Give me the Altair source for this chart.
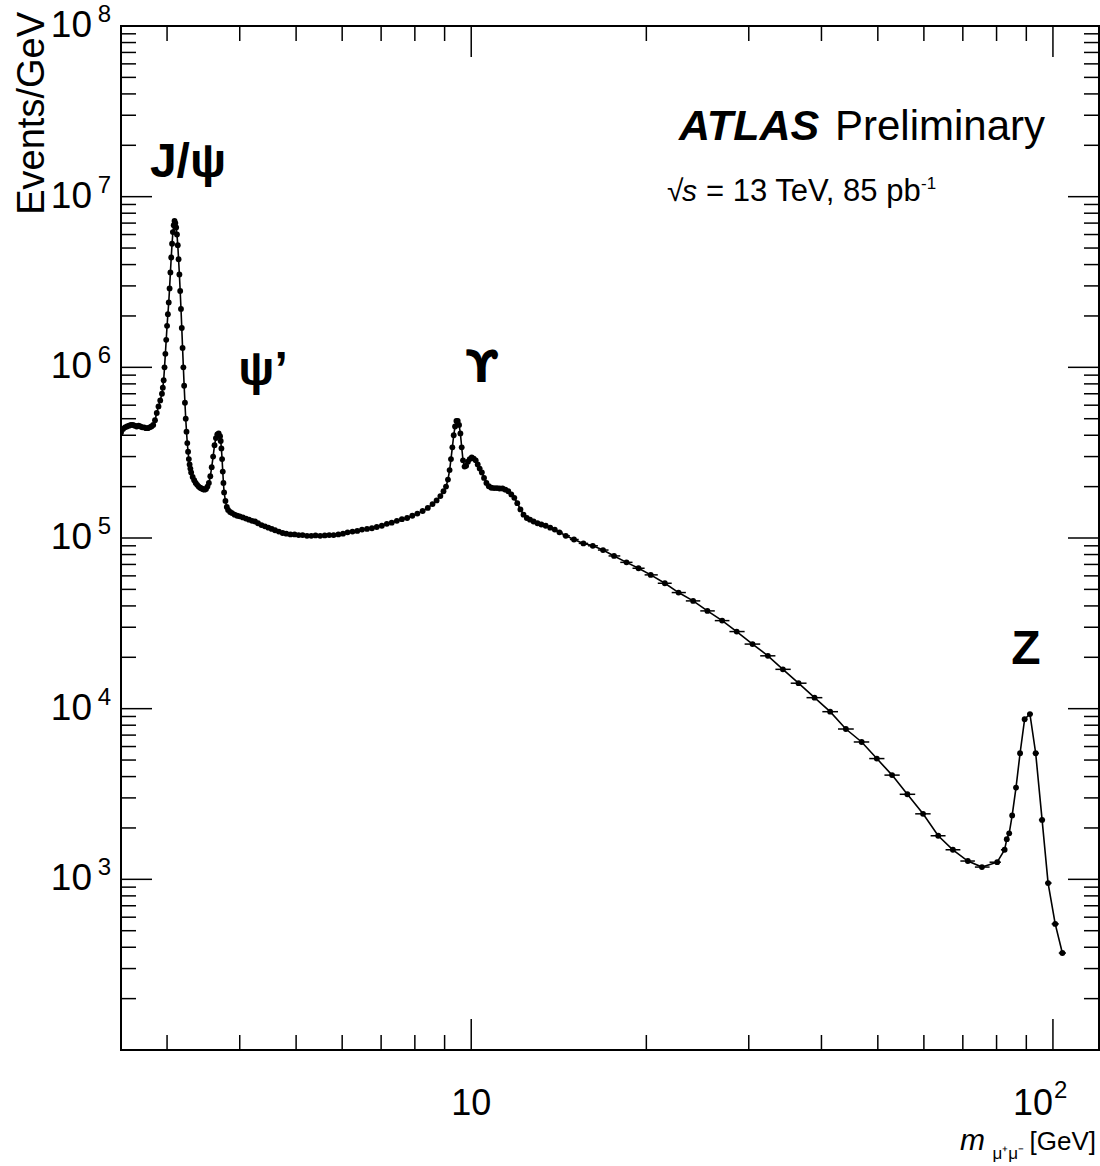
import altair as alt
import pandas as pd
import numpy as np

# ---------------- data ----------------
mass = [
    2.50, 2.52, 2.54, 2.56, 2.58, 2.60, 2.62, 2.64, 2.66, 2.68, 2.70, 2.72, 2.74, 2.76, 2.78, 2.80,
    2.82, 2.84, 2.86, 2.88, 2.90, 2.92, 2.94, 2.95, 2.96, 2.97, 2.98, 2.99, 3.00, 3.01, 3.02, 3.03,
    3.04, 3.05, 3.06, 3.07, 3.08, 3.09, 3.10, 3.11, 3.12, 3.13, 3.14, 3.15, 3.16, 3.17, 3.18, 3.19,
    3.20, 3.21, 3.22, 3.23, 3.24, 3.25, 3.26, 3.27, 3.28, 3.29, 3.30, 3.32, 3.34, 3.36, 3.38, 3.40,
    3.42, 3.44, 3.46, 3.48, 3.50, 3.52, 3.54, 3.56, 3.58, 3.60, 3.62, 3.64, 3.66, 3.68, 3.70, 3.71,
    3.72, 3.73, 3.74, 3.75, 3.76, 3.78, 3.80, 3.82, 3.85, 3.88, 3.92, 3.96, 4.00, 4.05, 4.10, 4.15,
    4.20, 4.25, 4.30, 4.36, 4.42, 4.48, 4.54, 4.60, 4.67, 4.74, 4.81, 4.89, 4.97, 5.05, 5.13, 5.22,
    5.31, 5.40, 5.50, 5.60, 5.70, 5.80, 5.91, 6.02, 6.13, 6.25, 6.37, 6.49, 6.62, 6.75, 6.88, 7.02,
    7.16, 7.30, 7.45, 7.60, 7.76, 7.92, 8.08, 8.25, 8.42, 8.58, 8.72, 8.85, 8.96, 9.05, 9.12, 9.18,
    9.23, 9.28, 9.33, 9.38, 9.43, 9.48, 9.53, 9.58, 9.63, 9.68, 9.74, 9.80, 9.87, 9.94, 10.02, 10.10,
    10.18, 10.26, 10.34, 10.43, 10.52, 10.62, 10.72, 10.83, 10.95, 11.07, 11.19, 11.32, 11.45, 11.58,
    11.72, 11.86, 12.00, 12.15, 12.30, 12.46, 12.62, 12.80, 13.00, 13.20, 13.43, 13.67, 13.92, 14.18,
    14.54, 15.02, 15.59, 16.18, 16.85, 17.60, 18.49, 19.39, 20.35, 21.52, 22.72, 24.07, 25.47, 27.00,
    28.60, 30.45, 32.36, 34.34, 36.53, 38.92, 41.40, 44.06, 46.90, 49.80, 52.90, 56.20, 59.80, 63.50,
    67.30, 71.40, 75.50, 80.20, 82.60, 83.30, 84.10, 85.10, 86.40, 87.80, 89.40, 91.30, 93.40, 95.80,
    98.10, 100.9, 103.8,
]
events = [
    4.15e5, 4.35e5, 4.45e5, 4.5e5, 4.55e5, 4.6e5, 4.6e5, 4.55e5, 4.5e5, 4.55e5, 4.5e5, 4.45e5, 4.45e5, 4.4e5, 4.4e5, 4.45e5,
    4.5e5, 4.6e5, 4.9e5, 5.4e5, 5.9e5, 6.4e5, 7.0e5, 7.6e5, 8.4e5, 1.0e6, 1.2e6, 1.45e6, 1.75e6, 2.05e6, 2.4e6, 2.9e6,
    3.6e6, 4.4e6, 5.3e6, 6.2e6, 6.8e6, 7.2e6, 7.0e6, 6.6e6, 6.0e6, 5.2e6, 4.3e6, 3.5e6, 2.8e6, 2.2e6, 1.7e6, 1.3e6,
    1.0e6, 7.8e5, 6.2e5, 5.0e5, 4.2e5, 3.6e5, 3.2e5, 2.9e5, 2.7e5, 2.55e5, 2.42e5, 2.28e5, 2.18e5, 2.1e5, 2.05e5, 2.0e5,
    1.97e5, 1.95e5, 1.93e5, 1.92e5, 1.94e5, 2.0e5, 2.1e5, 2.3e5, 2.6e5, 3.0e5, 3.5e5, 3.85e5, 4.05e5, 4.1e5, 3.95e5, 3.7e5,
    3.35e5, 2.9e5, 2.45e5, 2.1e5, 1.85e5, 1.65e5, 1.52e5, 1.46e5, 1.42e5, 1.4e5, 1.37e5, 1.35e5, 1.34e5, 1.32e5, 1.3e5, 1.28e5,
    1.26e5, 1.25e5, 1.22e5, 1.19e5, 1.17e5, 1.15e5, 1.13e5, 1.11e5, 1.09e5, 1.07e5, 1.06e5, 1.05e5, 1.05e5, 1.04e5, 1.04e5, 1.03e5,
    1.03e5, 1.035e5, 1.03e5, 1.035e5, 1.04e5, 1.04e5, 1.05e5, 1.06e5, 1.08e5, 1.09e5, 1.1e5, 1.12e5, 1.13e5, 1.14e5, 1.16e5, 1.18e5,
    1.21e5, 1.23e5, 1.26e5, 1.29e5, 1.31e5, 1.35e5, 1.39e5, 1.44e5, 1.5e5, 1.58e5, 1.66e5, 1.76e5, 1.88e5, 2.0e5, 2.2e5, 2.5e5,
    2.9e5, 3.4e5, 4.0e5, 4.5e5, 4.85e5, 4.85e5, 4.6e5, 4.1e5, 3.4e5, 2.85e5, 2.62e5, 2.65e5, 2.8e5, 2.9e5, 2.97e5, 2.92e5,
    2.85e5, 2.7e5, 2.55e5, 2.42e5, 2.25e5, 2.1e5, 2.01e5, 1.97e5, 1.96e5, 1.96e5, 1.95e5, 1.95e5, 1.92e5, 1.88e5,
    1.8e5, 1.72e5, 1.6e5, 1.47e5, 1.37e5, 1.31e5, 1.28e5, 1.25e5, 1.22e5, 1.2e5, 1.18e5, 1.15e5, 1.12e5, 1.08e5,
    1.03e5, 9.8e4, 9.3e4, 9.0e4, 8.5e4, 7.85e4, 7.2e4, 6.65e4, 6.08e4, 5.43e4, 4.79e4, 4.28e4, 3.74e4, 3.28e4,
    2.83e4, 2.39e4, 2.04e4, 1.7e4, 1.41e4, 1.16e4, 9.6e3, 7.6e3, 6.38e3, 5.1e3, 4.08e3, 3.15e3, 2.42e3, 1.8e3,
    1.49e3, 1.28e3, 1.18e3, 1.26e3, 1.49e3, 1.72e3, 1.86e3, 2.37e3, 3.45e3, 5.48e3, 8.67e3, 9.3e3, 5.48e3, 2.23e3,
    951, 548, 370,
]

x_major = [10, 100]
x_minor = [3, 4, 5, 6, 7, 8, 9, 20, 30, 40, 50, 60, 70, 80, 90]
y_major = [1e3, 1e4, 1e5, 1e6, 1e7]
y_minor = [k * 10 ** n for n in range(2, 8) for k in range(2, 10)]
y_label_vals = [1e3, 1e4, 1e5, 1e6, 1e7, 1e8]
y_label_exp = ["3", "4", "5", "6", "7", "8"]

# ---------------- layout ----------------
W, H = 978, 1024
FONT = "Liberation Sans"
MAJ, MIN = 31, 15

df = pd.DataFrame({"m": mass, "v": events})
lm = np.log10(df["m"].to_numpy())
mid = (lm[1:] + lm[:-1]) / 2
lo = np.concatenate([[lm[0] - (mid[0] - lm[0])], mid])
hi = np.concatenate([mid, [lm[-1] + (lm[-1] - mid[-1])]])
df["lo"] = 10 ** lo
df["hi"] = 10 ** hi

xs = alt.Scale(type="log", domain=[2.5, 120], nice=False)
ys = alt.Scale(type="log", domain=[100, 1e8], nice=False)

base = alt.Chart(df)
line = base.mark_line(color="black", strokeWidth=1.6, clip=True).encode(
    x=alt.X("m:Q", scale=xs, axis=None),
    y=alt.Y("v:Q", scale=ys, axis=None),
)
xerr = base.mark_rule(color="black", strokeWidth=1.5, clip=True).encode(
    x=alt.X("lo:Q", scale=xs), x2="hi:Q", y=alt.Y("v:Q", scale=ys)
)
pts = base.mark_circle(color="black", opacity=1, size=34, clip=True).encode(
    x=alt.X("m:Q", scale=xs), y=alt.Y("v:Q", scale=ys)
)

def xticks(vals, L):
    d = alt.Chart(pd.DataFrame({"t": vals}))
    bot = d.mark_rule(color="black", strokeWidth=1.5).encode(
        x=alt.X("t:Q", scale=xs), y=alt.value(H), y2=alt.value(H - L))
    top = d.mark_rule(color="black", strokeWidth=1.5).encode(
        x=alt.X("t:Q", scale=xs), y=alt.value(0), y2=alt.value(L))
    return [bot, top]

def yticks(vals, L):
    d = alt.Chart(pd.DataFrame({"t": vals}))
    left = d.mark_rule(color="black", strokeWidth=1.5).encode(
        y=alt.Y("t:Q", scale=ys), x=alt.value(0), x2=alt.value(L))
    right = d.mark_rule(color="black", strokeWidth=1.5).encode(
        y=alt.Y("t:Q", scale=ys), x=alt.value(W), x2=alt.value(W - L))
    return [left, right]

ticks = xticks(x_major, MAJ) + xticks(x_minor, MIN) + yticks(y_major, MAJ) + yticks(y_minor, MIN)

ylab_df = pd.DataFrame({"v": y_label_vals, "e": y_label_exp})
ylab_base = alt.Chart(ylab_df).mark_text(font=FONT, fontSize=37, align="right", baseline="middle", color="black").encode(
    y=alt.Y("v:Q", scale=ys), x=alt.value(-29), text=alt.value("10"))
ylab_exp = alt.Chart(ylab_df).mark_text(font=FONT, fontSize=24, align="right", baseline="middle", dy=-11, color="black").encode(
    y=alt.Y("v:Q", scale=ys), x=alt.value(-10), text="e:N")

xlab_df = pd.DataFrame({"t": [10.0]})
xlab10 = alt.Chart(xlab_df).mark_text(font=FONT, fontSize=36, align="center", baseline="alphabetic", color="black").encode(
    x=alt.X("t:Q", scale=xs), y=alt.value(H + 65), text=alt.value("10"))
xlab100_df = pd.DataFrame({"t": [100.0]})
xlab100 = alt.Chart(xlab100_df).mark_text(font=FONT, fontSize=36, align="center", baseline="alphabetic", dx=-20, color="black").encode(
    x=alt.X("t:Q", scale=xs), y=alt.value(H + 65), text=alt.value("10"))
xlab100e = alt.Chart(xlab100_df).mark_text(font=FONT, fontSize=24, align="left", baseline="alphabetic", dx=1, color="black").encode(
    x=alt.X("t:Q", scale=xs), y=alt.value(H + 48), text=alt.value("2"))

def txt(s, x, y, size, weight="normal", style="normal", align="left", angle=0, baseline="alphabetic", font=FONT):
    kw = dict(font=font, fontSize=size, fontWeight=weight, fontStyle=style, align=align,
              baseline=baseline, color="black")
    if angle:
        kw["angle"] = angle
    return alt.Chart(pd.DataFrame({"a": [0]})).mark_text(**kw).encode(
        x=alt.value(x), y=alt.value(y), text=alt.value(s))

annots = [
    txt("J/ψ", 67, 151, 48, weight="bold", align="center"),
    txt("ψ’", 142, 359, 48, weight="bold", align="center"),
    txt("ϒ", 361, 356, 44, weight="bold", align="center", font="DejaVu Sans"),
    txt("Z", 905, 638, 48, weight="bold", align="center"),
    txt("ATLAS", 558, 114, 43, weight="bold", style="italic"),
    txt("Preliminary", 714, 114, 42),
    txt("√", 546, 175, 30),
    txt("s", 561, 175, 30, style="italic"),
    txt("= 13 TeV, 85 pb", 585, 175, 31),
    txt("-1", 800, 163, 17),
    txt("[GeV]", 975, 1124, 26, align="right"),
    txt("μ⁺μ⁻", 903, 1133, 17, align="right"),
    txt("m", 864, 1124, 30, style="italic", align="right"),
    txt("Events/GeV", -77, -14, 38, align="right", angle=270),
]

chart = alt.layer(
    line, xerr, pts, *ticks, ylab_base, ylab_exp, xlab10, xlab100, xlab100e, *annots
).properties(
    width=W, height=H,
    autosize=alt.AutoSizeParams(type="none"),
    padding={"left": 121, "top": 26, "right": 1, "bottom": 116},
).configure_view(stroke="black", strokeWidth=2)

chart.save("out.html", embed_options={"renderer": "svg", "actions": False})
